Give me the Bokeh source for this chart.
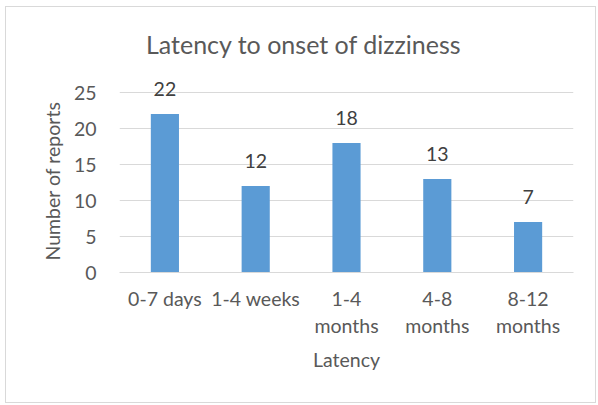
from bokeh.plotting import figure
from bokeh.models import Range1d, FactorRange, Label, ColumnDataSource, Title
from bokeh.embed import file_html
from bokeh.resources import INLINE
from bokeh.core.properties import value

categories = ["0-7 days", "1-4 weeks", "1-4\nmonths", "4-8\nmonths", "8-12\nmonths"]
reports = [22, 12, 18, 13, 7]
y_ticks = [0, 5, 10, 15, 20, 25]
title_text = "Latency to onset of dizziness"
x_label = "Latency"
y_label = "Number of reports"

FONT = "Lato"
TXT = "#595959"

src = ColumnDataSource(dict(cat=categories, val=reports, lab=[str(v) for v in reports]))

# frame extends above the 25 line so that data labels and title are not clipped
p = figure(width=591, height=397, x_range=FactorRange(*categories), y_range=Range1d(0, 35),
           output_backend="svg", toolbar_location=None,
           min_border_left=113, min_border_right=24, min_border_top=13, min_border_bottom=132,
           styles={"border": "1px solid #D9D9D9", "margin-left": "5px", "margin-top": "6px"})
p.outline_line_color = None
p.background_fill_color = "white"
p.border_fill_color = "white"

p.vbar(x="cat", top="val", width=0.31, source=src, fill_color="#5B9BD5", line_color=None)
p.text(x="cat", y="val", text="lab", source=src, text_align="center", text_baseline="alphabetic",
       y_offset=-25, text_font=value(FONT), text_font_size="19.5px", text_color="#404040")

p.yaxis.ticker = y_ticks
p.yaxis.axis_line_color = None
p.yaxis.major_tick_line_color = None
p.yaxis.minor_tick_line_color = None
p.yaxis.major_tick_out = 0
p.yaxis.major_label_standoff = 23

p.xaxis.axis_line_color = "#D9D9D9"
p.xaxis.major_tick_line_color = None
p.xaxis.major_tick_out = 0
p.xaxis.major_label_standoff = 14
p.xaxis.axis_label = x_label
p.xaxis.axis_label_standoff = 8

for ax in (p.xaxis, p.yaxis):
    ax.major_label_text_font = FONT
    ax.major_label_text_font_size = "19.5px"
    ax.major_label_text_color = TXT
    ax.axis_label_text_font = FONT
    ax.axis_label_text_font_size = "19.5px"
    ax.axis_label_text_font_style = "normal"
    ax.axis_label_text_color = TXT

# y axis title, aligned to the 0..25 part of the axis
ytitle = Title(text=y_label, align="left", offset=12, standoff=13,
               text_font=FONT, text_font_size="19.5px", text_font_style="normal", text_color=TXT)
p.add_layout(ytitle, "left")

p.xgrid.grid_line_color = None
p.ygrid.ticker = y_ticks
p.ygrid.grid_line_color = "#D9D9D9"
p.ygrid.grid_line_width = 1

title = Label(x=2.03, y=31.67, text=title_text, text_align="center",
              text_baseline="alphabetic", text_font=FONT, text_font_size="25px", text_color=TXT)
p.add_layout(title)

open("out.html", "w").write(file_html(p, INLINE))
